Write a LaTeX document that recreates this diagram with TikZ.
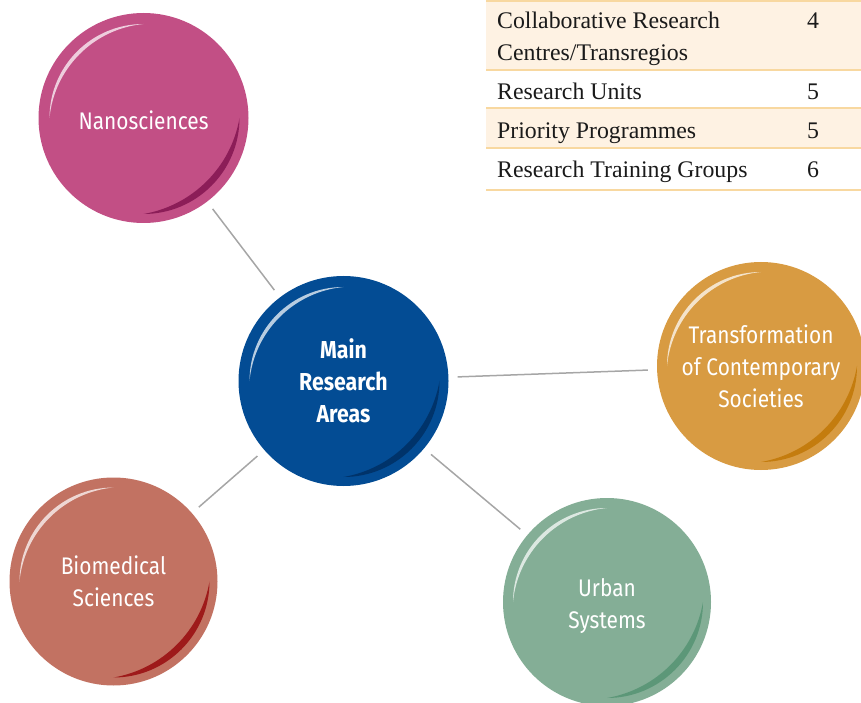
\documentclass[tikz,border=0pt]{standalone}
\usepackage{fontspec}
\setmainfont{Liberation Serif}
\newfontfamily\circfont[FakeStretch=0.87]{Fira Sans}
\usetikzlibrary{calc}
\definecolor{nanoC}{HTML}{C24F85}
\definecolor{nanoD}{HTML}{8C1D58}
\definecolor{mainC}{HTML}{034C94}
\definecolor{mainD}{HTML}{00336A}
\definecolor{transC}{HTML}{D89B42}
\definecolor{transD}{HTML}{C47C0E}
\definecolor{urbanC}{HTML}{84AE96}
\definecolor{urbanD}{HTML}{5C9778}
\definecolor{bioC}{HTML}{C27262}
\definecolor{bioD}{HTML}{9E1A1A}
\definecolor{linkgray}{HTML}{A6A6A6}
\definecolor{rowbg}{HTML}{FEF2E3}
\definecolor{rowline}{HTML}{F8D8A0}
\definecolor{tabtext}{HTML}{1A1A1A}
\newcommand\bubbleshade[2]{%
  \fill[white, opacity=0.72] ($(#1.center)+(180:94)$) arc[start angle=180,end angle=90,radius=94]
     arc[start angle=95.49,end angle=174.51,radius=104.48] -- cycle;
  \fill[#2] ($(#1.center)+(0:96)$) arc[start angle=0,end angle=-90,radius=96]
     arc[start angle=-80.22,end angle=-9.78,radius=117.71] -- cycle;
}
\newcommand\lowered[2]{\raisebox{-#1}[\height][\depth]{#2}}
\begin{document}
\begin{tikzpicture}[x=1pt,y=1pt,
  bubble/.style={circle, inner sep=0pt, minimum size=#1, text=white, align=center,
    font=\circfont\fontsize{24}{32}\selectfont},
  link/.style={draw=linkgray, line width=1.5pt, shorten >=9pt, shorten <=9pt},
  rowrule/.style={draw=rowline, line width=2pt},
  tabcell/.style={anchor=base west, inner sep=0pt, text=tabtext, font=\fontsize{23.8}{32}\selectfont},
  tabnum/.style={anchor=base, inner sep=0pt, text=tabtext, font=\fontsize{23.8}{32}\selectfont}]
\useasboundingbox (0,0) rectangle (861,702);
\clip (0,0) rectangle (861,702);
% table
\fill[rowbg] (486,632) rectangle (861,702);
\fill[rowbg] (486,554) rectangle (861,593.5);
\draw[rowrule] (486,701) -- (861,701);
\draw[rowrule] (486,632) -- (861,632);
\draw[rowrule] (486,593.5) -- (861,593.5);
\draw[rowrule] (486,554) -- (861,554);
\draw[rowrule] (486,512) -- (861,512);
\node[tabcell] (t1a) at (497,673) {Collaborative Research};
\node[tabcell] (t1b) at (497,641) {Centres/Transregios};
\node[tabnum] (n1) at (813,673) {4};
\node[tabcell] (t2) at (497,602) {Research Units};
\node[tabnum] (n2) at (813,602) {5};
\node[tabcell] (t3) at (497,563) {Priority Programmes};
\node[tabnum] (n3) at (813,563) {5};
\node[tabcell] (t4) at (497,524) {Research Training Groups};
\node[tabnum] (n4) at (813,524) {6};
% bubbles
\node[bubble=210pt, fill=mainC, font=\circfont\bfseries\fontsize{24.5}{32}\selectfont] (main) at (343.5,321) {Main\\Research\\Areas};
\node[bubble=210pt, fill=nanoC] (nano) at (143.5,584) {\lowered{2pt}{Nanosciences}};
\node[bubble=208pt, fill=transC] (trans) at (761,336) {Transformation\\of Contemporary\\Societies};
\node[bubble=208pt, fill=urbanC] (urban) at (607,100) {\lowered{4pt}{Urban}\\\lowered{4pt}{Systems}};
\node[bubble=208pt, fill=bioC] (bio) at (113.5,120.5) {Biomedical\\Sciences};
% links
\draw[link] (nano) -- (main);
\draw[link] (main) -- (trans);
\draw[link] (main) -- (bio);
\draw[link] (main) -- (urban);
% shading
\bubbleshade{main}{mainD}
\bubbleshade{nano}{nanoD}
\bubbleshade{trans}{transD}
\bubbleshade{urban}{urbanD}
\bubbleshade{bio}{bioD}
\end{tikzpicture}
\end{document}
